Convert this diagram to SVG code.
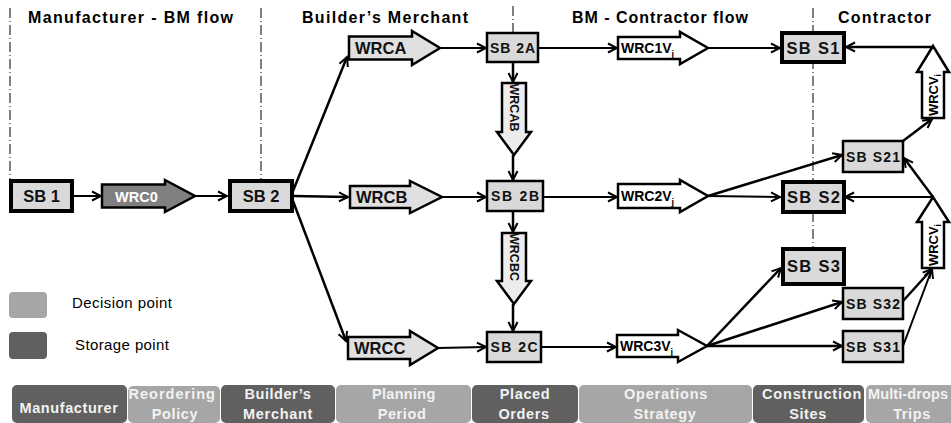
<svg xmlns="http://www.w3.org/2000/svg" width="951" height="423" viewBox="0 0 951 423">
<defs>
<marker id="ah" markerUnits="userSpaceOnUse" markerWidth="12" markerHeight="12" refX="10" refY="5" orient="auto" viewBox="0 0 12 10">
<path d="M1,0.5 L10,5 L1,9.5" fill="none" stroke="#000" stroke-width="2"/>
</marker>
</defs>
<style>
text{font-family:"Liberation Sans",Arial,sans-serif;font-weight:bold;}
.title{font-size:16px;fill:#000;}
.div{stroke:#000;stroke-width:1;stroke-dasharray:10,3,1,3;fill:none;}
.sbk{fill:#d9d9d9;stroke:#000;stroke-width:4;}
.sbt{fill:#d9d9d9;stroke:#000;stroke-width:2.5;}
.tk{font-size:16.5px;fill:#111;text-anchor:middle;}
.tt{font-size:14px;fill:#111;text-anchor:middle;}
.ba{stroke:#000;stroke-width:2.5;}
.light{fill:#e0e0e0;}
.vlight{fill:#ececec;}
.white{fill:#fff;}
.dark{fill:#808080;}
.con{stroke:#000;stroke-width:2;fill:none;marker-end:url(#ah);}
.cont{stroke:#000;stroke-width:2.5;fill:none;marker-end:url(#ah);}
.bd{fill:#606060;}
.bl{fill:#a6a6a6;}
.bt{font-size:14.5px;fill:#f2f2f2;text-anchor:middle;letter-spacing:0.6px;}
.leg{font-size:15px;font-weight:normal;fill:#000;}
</style>
<g id="dividers">
<line class="div" x1="10" y1="8" x2="10" y2="179"/>
<line class="div" x1="261" y1="8" x2="261" y2="179"/>
<line class="div" x1="513" y1="6" x2="513" y2="32"/>
<line class="div" x1="813" y1="8" x2="813" y2="248"/>
</g>
<g id="titles">
<text class="title" x="28" y="23" textLength="205">Manufacturer - BM flow</text>
<text class="title" x="302" y="23" textLength="166">Builder’s Merchant</text>
<text class="title" x="572" y="23" textLength="176">BM - Contractor flow</text>
<text class="title" x="838" y="23" textLength="93">Contractor</text>
</g>
<g id="connectors">
<line class="con" x1="72" y1="196" x2="101" y2="196"/>
<line class="con" x1="195" y1="196" x2="227" y2="196"/>
<line class="cont" x1="293" y1="191" x2="347" y2="57"/>
<line class="cont" x1="293" y1="196" x2="348" y2="197"/>
<line class="cont" x1="293" y1="201" x2="346" y2="341"/>
<line class="con" x1="440" y1="48" x2="486" y2="48"/>
<line class="con" x1="442" y1="197" x2="486" y2="197"/>
<line class="con" x1="438" y1="348" x2="486" y2="347"/>
<line class="cont" x1="513" y1="62" x2="513" y2="82"/>
<line class="cont" x1="513" y1="155" x2="513" y2="180"/>
<line class="cont" x1="513" y1="212" x2="513" y2="232"/>
<line class="cont" x1="513" y1="304" x2="513" y2="331"/>
<line class="con" x1="538" y1="48" x2="617" y2="48"/>
<line class="con" x1="543" y1="197" x2="617" y2="197"/>
<line class="con" x1="541" y1="347" x2="616" y2="347"/>
<line class="con" x1="708" y1="48" x2="780" y2="48"/>
<line class="con" x1="708" y1="196" x2="780" y2="197"/>
<line class="cont" x1="708" y1="196" x2="842" y2="155"/>
<line class="cont" x1="707" y1="346" x2="781" y2="268"/>
<line class="cont" x1="707" y1="346" x2="842" y2="302"/>
<line class="cont" x1="707" y1="346" x2="842" y2="346"/>
<line class="cont" x1="933" y1="47" x2="846" y2="47"/>
<line class="cont" x1="903" y1="141" x2="932" y2="119"/>
<line class="cont" x1="933" y1="197" x2="904" y2="158"/>
<line class="con" x1="933" y1="197" x2="845" y2="197"/>
<line class="cont" x1="903" y1="301" x2="932" y2="269"/>
<line class="con" x1="903" y1="346" x2="932" y2="269"/>
</g>
<g id="SB1"><rect class="sbk" x="11" y="181" width="61" height="30"/><text class="tk" x="41.5" y="202">SB 1</text></g>
<g id="WRC0"><path class="ba dark" d="M102,184.5 H165 V180 L195,196 L165,212 V207.5 H102 Z"/><text x="115" y="201.5" style="font-size:14.5px;fill:#fff;">WRC0</text></g>
<g id="SB2"><rect class="sbk" x="230" y="181" width="62" height="30"/><text class="tk" x="261" y="202">SB 2</text></g>
<g id="WRCA"><path class="ba light" d="M349,36.5 H412 V31 L440,48 L412,65 V59.5 H349 Z"/><text x="355" y="54" style="font-size:16.5px;fill:#111;">WRCA</text></g>
<g id="WRCB"><path class="ba light" d="M350,186 H410 V181 L442,197 L410,213 V208 H350 Z"/><text x="356" y="203" style="font-size:16.5px;fill:#111;">WRCB</text></g>
<g id="WRCC"><path class="ba light" d="M348,337 H410 V331 L438,348 L410,365 V359 H348 Z"/><text x="354" y="354" style="font-size:16.5px;fill:#111;">WRCC</text></g>
<g id="SB2A"><rect class="sbt" x="487" y="33" width="51" height="29"/><text class="tt" x="512.5" y="52.5" textLength="45">SB 2A</text></g>
<g id="SB2B"><rect class="sbt" x="487" y="181" width="56" height="30"/><text class="tt" x="515" y="201" textLength="48">SB 2B</text></g>
<g id="SB2C"><rect class="sbt" x="487" y="332" width="54" height="30"/><text class="tt" x="514" y="352" textLength="47">SB 2C</text></g>
<g id="WRCAB"><path class="ba vlight" d="M502,83 H526 V132 H531 L514,155 L497,132 H502 Z"/><text transform="translate(514,107.5) rotate(90)" x="0" y="4.5" style="font-size:12.5px;fill:#111;text-anchor:middle;">WRCAB</text></g>
<g id="WRCBC"><path class="ba vlight" d="M502,233 H526 V281 H531 L514,304 L497,281 H502 Z"/><text transform="translate(514,257) rotate(90)" x="0" y="4.5" style="font-size:12.5px;fill:#111;text-anchor:middle;">WRCBC</text></g>
<g id="WRC1V"><path class="ba white" d="M618,37 H680 V32 L708,48 L680,64 V59 H618 Z"/><text x="621" y="53" style="font-size:14px;fill:#000;">WRC1V<tspan style="font-size:9px" dy="4">j</tspan></text></g>
<g id="WRC2V"><path class="ba white" d="M618,184 H680 V180 L708,196 L680,212 V208 H618 Z"/><text x="621" y="201" style="font-size:14px;fill:#000;">WRC2V<tspan style="font-size:9px" dy="4">j</tspan></text></g>
<g id="WRC3V"><path class="ba white" d="M617,335 H678 V330 L707,346 L678,362 V357 H617 Z"/><text x="620" y="351" style="font-size:14px;fill:#000;">WRC3V<tspan style="font-size:9px" dy="4">j</tspan></text></g>
<g id="SBS1"><rect class="sbk" x="782" y="33" width="62" height="29"/><text class="tk" x="813" y="53.5" textLength="53">SB S1</text></g>
<g id="SBS2"><rect class="sbk" x="783" y="182" width="61" height="30"/><text class="tk" x="813.5" y="203" textLength="53">SB S2</text></g>
<g id="SBS3"><rect class="sbk" x="783" y="249" width="61" height="35"/><text class="tk" x="813.5" y="272" textLength="53">SB S3</text></g>
<g id="SBS21"><rect class="sbt" x="843" y="141" width="60" height="31"/><text class="tt" x="873" y="161.5" textLength="54">SB S21</text></g>
<g id="SBS32"><rect class="sbt" x="843" y="288" width="60" height="31"/><text class="tt" x="873" y="309" textLength="54">SB S32</text></g>
<g id="SBS31"><rect class="sbt" x="843" y="331" width="60" height="31"/><text class="tt" x="873" y="352" textLength="54">SB S31</text></g>
<g id="WRCVi1"><path class="ba white" d="M922,118 V72 H917 L933,46 L949,72 H944 V118 Z"/><text transform="translate(933,95) rotate(-90)" x="0" y="4.5" style="font-size:13px;fill:#000;text-anchor:middle;">WRCV<tspan style="font-size:9px" dy="3">i</tspan></text></g>
<g id="WRCVi2"><path class="ba white" d="M922,268 V222 H917 L933,197 L949,222 H944 V268 Z"/><text transform="translate(933,245) rotate(-90)" x="0" y="4.5" style="font-size:13px;fill:#000;text-anchor:middle;">WRCV<tspan style="font-size:9px" dy="3">i</tspan></text></g>
<g id="legend">
<rect x="9" y="292" width="38" height="26" rx="4" fill="#a6a6a6"/>
<text class="leg" x="72" y="308" textLength="100">Decision point</text>
<rect x="9" y="332" width="38" height="27" rx="4" fill="#606060"/>
<text class="leg" x="75" y="350" textLength="94">Storage point</text>
</g>
<g id="bar">
<rect class="bd" x="12" y="385" width="115" height="38" rx="5"/>
<text class="bt" x="69" y="413" textLength="99">Manufacturer</text>
<rect class="bl" x="128" y="386" width="92" height="37" rx="5"/>
<text class="bt" x="172" y="399" textLength="87">Reordering</text><text class="bt" x="175" y="419">Policy</text>
<rect class="bd" x="221" y="385" width="114" height="38" rx="5"/>
<text class="bt" x="278" y="399" textLength="67">Builder’s</text><text class="bt" x="278" y="419" textLength="70">Merchant</text>
<rect class="bl" x="336" y="385" width="135" height="38" rx="5"/>
<text class="bt" x="404" y="399" textLength="64">Planning</text><text class="bt" x="402" y="419">Period</text>
<rect class="bd" x="472" y="385" width="106" height="38" rx="5"/>
<text class="bt" x="525" y="399">Placed</text><text class="bt" x="524" y="419">Orders</text>
<rect class="bl" x="579" y="385" width="173" height="38" rx="5"/>
<text class="bt" x="666" y="399" textLength="84">Operations</text><text class="bt" x="665" y="419">Strategy</text>
<rect class="bd" x="753" y="385" width="111" height="38" rx="5"/>
<text class="bt" x="812" y="399" textLength="100">Construction</text><text class="bt" x="808" y="419">Sites</text>
<rect class="bl" x="866" y="385" width="100" height="38" rx="5"/>
<text class="bt" x="868" y="399" textLength="80" style="text-anchor:start;letter-spacing:0">Multi-drops</text><text class="bt" x="912" y="419">Trips</text>
</g>
</svg>
